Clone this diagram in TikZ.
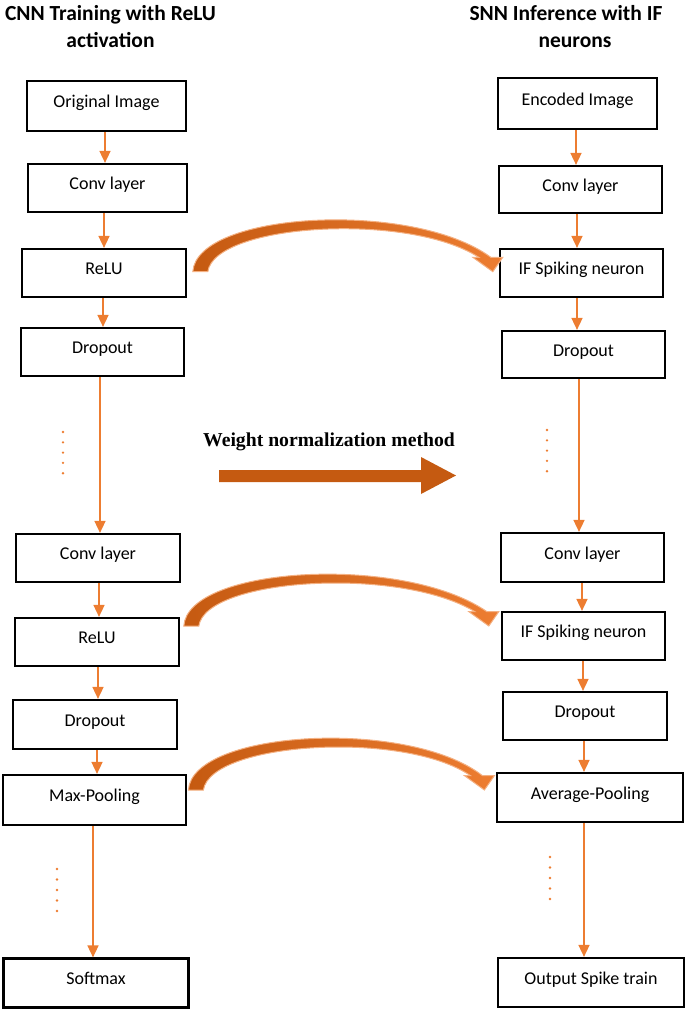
\documentclass[tikz,border=0pt]{standalone}
\usepackage{fontspec}
\setmainfont{Carlito}
\newfontfamily\wfont{Liberation Serif}
\usetikzlibrary{arrows.meta,calc}
\definecolor{org}{HTML}{ED7D31}
\definecolor{dorg}{HTML}{C55A11}
\definecolor{lorg}{HTML}{F4B183}
\tikzset{
  box/.style={draw=black, line width=2.2pt, inner sep=0pt, font=\fontsize{18}{21}\selectfont, text height=13pt, text depth=10pt},
  arr/.style={draw=org, line width=1.6pt, -{Triangle[width=11pt,length=12pt]}},
  ttl/.style={font=\bfseries\fontsize{21.5}{27}\selectfont, align=center, anchor=base},
  bendfill/.style={left color=dorg, right color=org, draw=lorg, line width=1pt, line join=miter},
  pics/bendar/.style={code={
    \path[bendfill] (0,0) .. controls (4,-60) and (220,-72) .. (#1-2,-14.4) -- (#1+10,-14.4) -- (#1,0) -- (#1-20,-14.4) -- (#1-14,-14.4) .. controls (215,-60) and (22,-48) .. (15,0) -- cycle;
  }}
}
\begin{document}
\begin{tikzpicture}[x=1pt,y=-1pt]
\useasboundingbox (0,0) rectangle (685,1010);
% titles
\node[ttl] (t1) at (110.5,47) {CNN Training with ReLU\\activation};
\node[ttl] (t2) at (575,47) {SNN Inference with IF\hspace*{18pt}\\neurons};
% left column
\node[box, minimum width=159pt, minimum height=50pt] (orig) at (106.5,106) {Original Image};
\node[box, minimum width=159pt, minimum height=48pt] (conv1) at (107.5,188) {Conv layer};
\node[box, minimum width=164pt, minimum height=48pt] (relu1) at (104,273) {ReLU};
\node[box, minimum width=163pt, minimum height=48pt] (drop1) at (102.5,352) {Dropout};
\node[box, minimum width=164pt, minimum height=48pt] (conv2) at (98,558) {Conv layer};
\node[box, minimum width=164pt, minimum height=48pt] (relu2) at (97,642) {ReLU};
\node[box, minimum width=164pt, minimum height=49pt] (drop2) at (95,724.5) {Dropout};
\node[box, minimum width=183pt, minimum height=50pt] (maxp) at (94.5,800) {Max-Pooling};
\node[box, minimum width=185pt, minimum height=49pt] (soft) at (96,983) {Softmax};
% right column
\node[box, minimum width=159pt, minimum height=51pt] (enc) at (577.5,103.5) {Encoded Image};
\node[box, minimum width=163pt, minimum height=47pt] (conv1r) at (580.5,189.5) {Conv layer};
\node[box, minimum width=163pt, minimum height=48pt] (if1) at (581.5,273) {IF Spiking neuron};
\node[box, minimum width=163pt, minimum height=47pt] (drop1r) at (583.5,354.5) {Dropout};
\node[box, minimum width=163pt, minimum height=49pt] (conv2r) at (582.5,557.5) {Conv layer};
\node[box, minimum width=163pt, minimum height=48pt] (if2) at (583.5,636) {IF Spiking neuron};
\node[box, minimum width=164pt, minimum height=48pt] (drop2r) at (585,716) {Dropout};
\node[box, minimum width=186pt, minimum height=49pt] (avg) at (590,797.5) {Average-Pooling};
\node[box, minimum width=186pt, minimum height=49pt] (out) at (591,982.5) {Output Spike train};
% connector columns
\coordinate (a1) at (105,0); \coordinate (a2) at (104,0); \coordinate (a3) at (103,0);
\coordinate (a4) at (100,0); \coordinate (a5) at (99,0); \coordinate (a6) at (98,0);
\coordinate (a7) at (97,0); \coordinate (a8) at (93,0);
\coordinate (b1) at (576,0); \coordinate (b2) at (577,0); \coordinate (b3) at (577,0);
\coordinate (b4) at (579,0); \coordinate (b5) at (582,0); \coordinate (b6) at (583,0);
\coordinate (b7) at (584,0); \coordinate (b8) at (584,0);
\draw[arr] (orig.south -| a1) -- (conv1.north -| a1);
\draw[arr] (conv1.south -| a2) -- (relu1.north -| a2);
\draw[arr] (relu1.south -| a3) -- (drop1.north -| a3);
\draw[arr] (drop1.south -| a4) -- (conv2.north -| a4);
\draw[arr] (conv2.south -| a5) -- (relu2.north -| a5);
\draw[arr] (relu2.south -| a6) -- (drop2.north -| a6);
\draw[arr] (drop2.south -| a7) -- (maxp.north -| a7);
\draw[arr] (maxp.south -| a8) -- (soft.north -| a8);
\draw[arr] (enc.south -| b1) -- (conv1r.north -| b1);
\draw[arr] (conv1r.south -| b2) -- (if1.north -| b2);
\draw[arr] (if1.south -| b3) -- (drop1r.north -| b3);
\draw[arr] (drop1r.south -| b4) -- (conv2r.north -| b4);
\draw[arr] (conv2r.south -| b5) -- (if2.north -| b5);
\draw[arr] (if2.south -| b6) -- (drop2r.north -| b6);
\draw[arr] (drop2r.south -| b7) -- (avg.north -| b7);
\draw[arr] (avg.south -| b8) -- (out.north -| b8);
% dots
\foreach \k in {0,...,4} {
  \fill[org] (63,432+10.3*\k) circle (1.3pt);
  \fill[org] (547,430+10.3*\k) circle (1.3pt);
  \fill[org] (57,869+10.5*\k) circle (1.3pt);
  \fill[org] (550,857+10.5*\k) circle (1.3pt);
}
% weight normalization
\node[font=\wfont\bfseries\fontsize{19.7}{22}\selectfont, anchor=base, inner sep=0pt] (wn) at (329,446) {Weight normalization method};
\fill[dorg] (219,470) -- (421,470) -- (421,457) -- (456,475.5) -- (421,494) -- (421,482) -- (219,482) -- cycle;
% curved arrows
\pic at ($(relu1.east)+(5.7,-1.3)$) {bendar=300};
\pic at ($(relu2.east)+(3.7,-16)$) {bendar=305};
\pic at ($(maxp.east)+(1.3,-10)$) {bendar=296};
\end{tikzpicture}
\end{document}
